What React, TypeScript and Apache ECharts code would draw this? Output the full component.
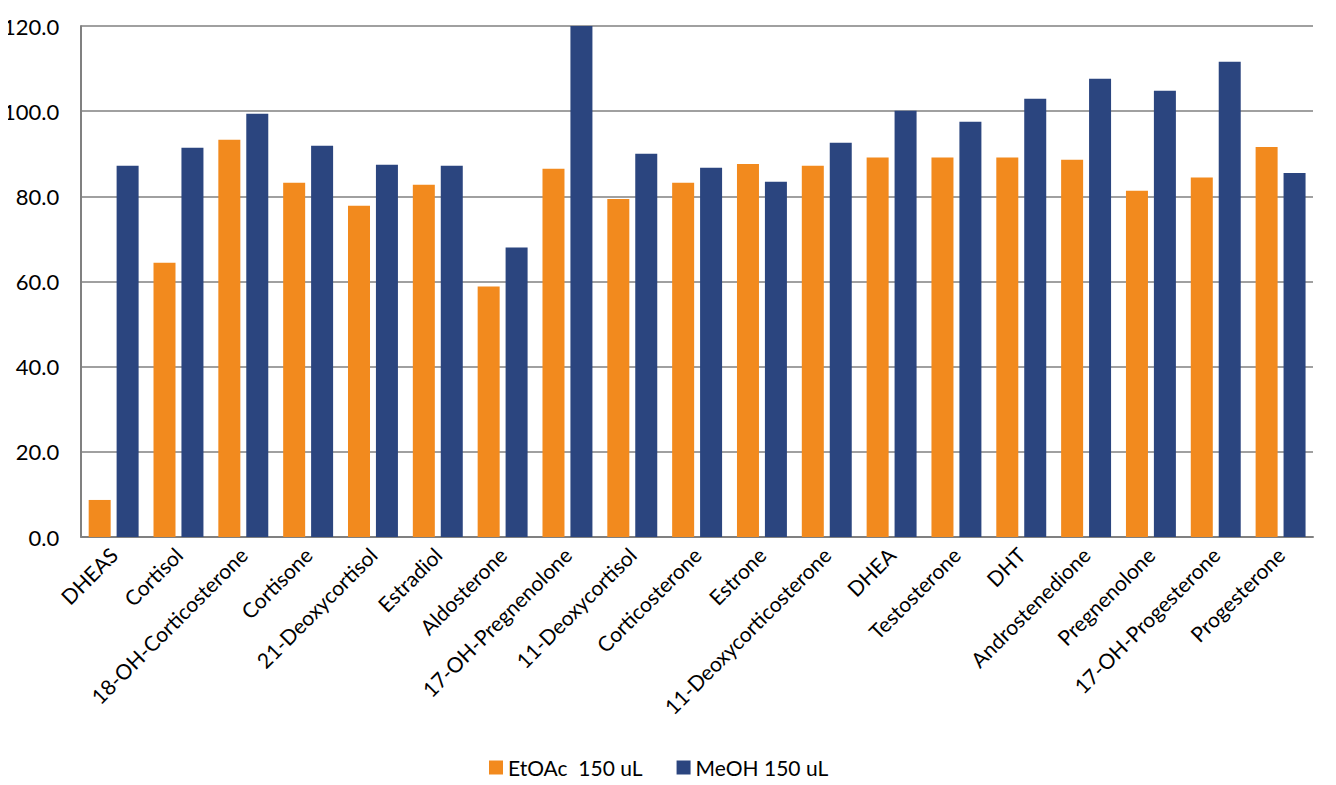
import React, { useEffect, useRef } from "react";
import * as echarts from "echarts";

const categories = [
  "DHEAS", "Cortisol", "18-OH-Corticosterone", "Cortisone", "21-Deoxycortisol",
  "Estradiol", "Aldosterone", "17-OH-Pregnenolone", "11-Deoxycortisol", "Corticosterone",
  "Estrone", "11-Deoxycorticosterone", "DHEA", "Testosterone", "DHT",
  "Androstenedione", "Pregnenolone", "17-OH-Progesterone", "Progesterone",
];

const etoac = [8.7, 64.4, 93.3, 83.2, 77.8, 82.7, 58.8, 86.5, 79.4, 83.2, 87.6, 87.2, 89.1, 89.1, 89.1, 88.6, 81.3, 84.4, 91.6];
const meoh = [87.2, 91.4, 99.4, 91.9, 87.4, 87.2, 68.0, 120.0, 90.0, 86.7, 83.4, 92.6, 100.1, 97.5, 102.9, 107.6, 104.8, 111.6, 85.5];

const FONT = "Lato, 'Open Sans', sans-serif";

const App: React.FC = () => {
  const chartRef = useRef<HTMLDivElement>(null);

  useEffect(() => {
    if (!chartRef.current) return;
    const chart = echarts.init(chartRef.current, undefined, { renderer: "svg" });

    chart.setOption({
      animation: false,
      grid: { left: 75, right: 23, top: 26, bottom: 248 },
      legend: {
        bottom: 2,
        left: 484,
        itemWidth: 14,
        itemHeight: 14,
        itemGap: 34,
        icon: "rect",
        textStyle: { fontFamily: FONT, fontSize: 21, color: "#000" },
        data: ["EtOAc  150 uL", "MeOH 150 uL"],
      },
      xAxis: {
        type: "category",
        data: categories,
        axisLine: { lineStyle: { color: "#808080", width: 2 } },
        axisTick: { show: false },
        axisLabel: {
          rotate: 45,
          interval: 0,
          margin: 14,
          color: "#000",
          fontFamily: FONT,
          fontSize: 21,
        },
      },
      yAxis: {
        type: "value",
        min: 0,
        max: 120,
        interval: 20,
        axisLine: { show: true, lineStyle: { color: "#808080", width: 2 } },
        axisTick: { show: false },
        splitLine: { lineStyle: { color: "#808080", width: 1.5 } },
        axisLabel: {
          formatter: (v: number) => v.toFixed(1),
          color: "#000",
          fontFamily: FONT,
          fontSize: 22,
          margin: 22,
        },
      },
      series: [
        {
          name: "EtOAc  150 uL",
          type: "bar",
          data: etoac,
          barWidth: 22,
          barGap: "27%",
          itemStyle: { color: "#F28A1E" },
        },
        {
          name: "MeOH 150 uL",
          type: "bar",
          data: meoh,
          barWidth: 22,
          itemStyle: { color: "#2B457F" },
        },
      ],
    });

    return () => {
      chart.dispose();
    };
  }, []);

  return <div ref={chartRef} style={{ width: 1336, height: 785, margin: -8 }} />;
};

export default App;
